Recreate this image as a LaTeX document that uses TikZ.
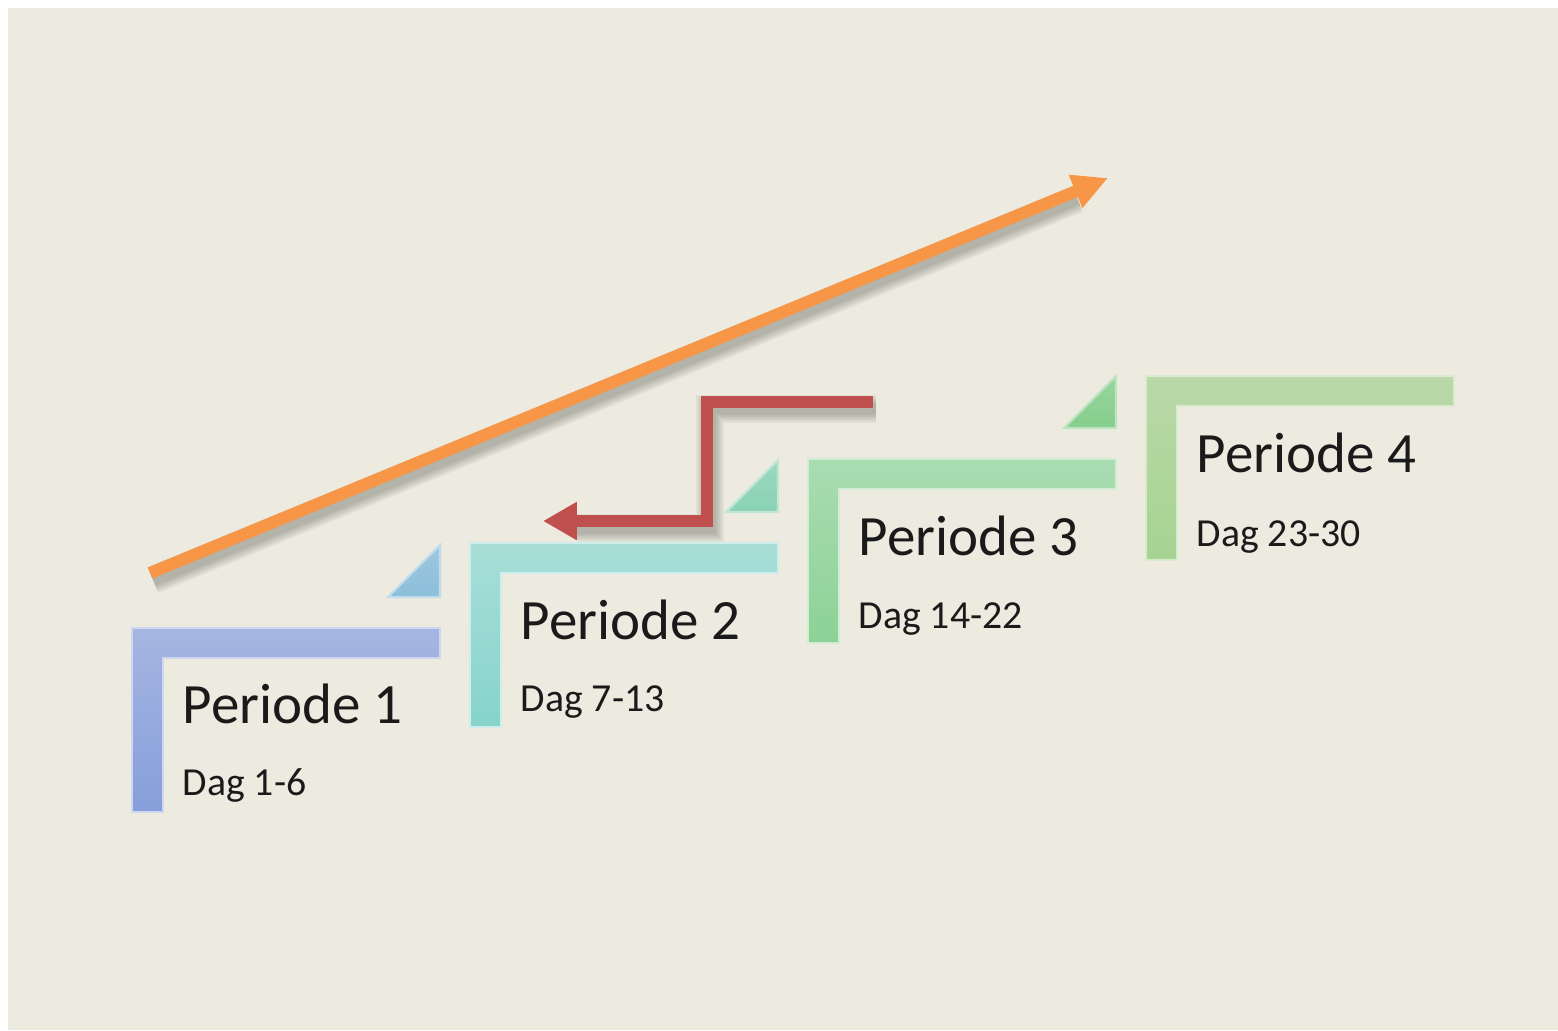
\documentclass[tikz,border=0pt]{standalone}
\usepackage{fontspec}
\setmainfont{Carlito}
\usetikzlibrary{arrows.meta,calc}
\definecolor{paper}{RGB}{237,235,224}
\definecolor{ink}{RGB}{26,26,26}
\definecolor{oneTop}{RGB}{166,182,226}
\definecolor{oneBot}{RGB}{134,158,218}
\definecolor{oneTri}{RGB}{140,190,218}
\definecolor{twoTop}{RGB}{168,222,216}
\definecolor{twoBot}{RGB}{134,212,204}
\definecolor{twoTri}{RGB}{138,210,180}
\definecolor{threeTop}{RGB}{170,220,178}
\definecolor{threeBot}{RGB}{140,210,150}
\definecolor{threeTri}{RGB}{134,206,140}
\definecolor{fourTop}{RGB}{186,216,168}
\definecolor{fourBot}{RGB}{166,212,146}
\definecolor{arrowOrange}{RGB}{247,150,70}
\definecolor{arrowRed}{RGB}{192,80,77}
% L-shaped step frame: #1,#2 = top-left corner, #3/#4 = shading colours
\newcommand\stepframe[4]{%
  \draw[framerim=#3, top color=#3, bottom color=#4]
    (#1,#2) -- ++(308,0) -- ++(0,30) -- ++(-277,0) -- ++(0,154) -- ++(-31,0) -- cycle;}
% small corner triangle above the right end of a frame
\newcommand\steptri[3]{%
  \draw[framerim=#3, top color=#3!85!white, bottom color=#3]
    (#1+256,#2-31) -- (#1+308,#2-31) -- (#1+308,#2-83) -- cycle;}
\begin{document}
\begin{tikzpicture}[x=0.01cm,y=-0.01cm,
  framerim/.style={draw=#1!55!white, line width=0.6pt},
  title/.style={anchor=base west, inner sep=0pt, text=ink, font=\fontsize{16.2pt}{20pt}\selectfont},
  days/.style={anchor=base west, inner sep=0pt, text=ink, font=\fontsize{11.3pt}{14pt}\selectfont},
  shadowline/.style={draw=black, line width=#1, opacity=0.05, line join=miter},
  orangearrow/.style={draw=arrowOrange, line width=0.12cm,
    -{Triangle[length=10pt,width=9.5pt]}},
  redarrow/.style={draw=arrowRed, line width=0.115cm, line join=miter,
    -{Triangle[length=9.6pt,width=10.2pt]}}]

\useasboundingbox (0,0) rectangle (1558,1030);
\fill[white] (0,0) rectangle (1558,1030);
\fill[paper] (8,8) rectangle (1558,1030);

% step frames
\stepframe{132}{628}{oneTop}{oneBot}
\steptri{132}{628}{oneTri}
\stepframe{470}{543}{twoTop}{twoBot}
\steptri{470}{543}{twoTri}
\stepframe{808}{459}{threeTop}{threeBot}
\steptri{808}{459}{threeTri}
\stepframe{1146}{376}{fourTop}{fourBot}

% labels
\node[title] (p1) at (182,723) {Periode 1};
\node[days]  (d1) at (182,795) {Dag 1-6};
\node[title] (p2) at (520,639) {Periode 2};
\node[days]  (d2) at (520,711) {Dag 7-13};
\node[title] (p3) at (858,555) {Periode 3};
\node[days]  (d3) at (858,628) {Dag 14-22};
\node[title] (p4) at (1196,472) {Periode 4};
\node[days]  (d4) at (1196,546) {Dag 23-30};

% arrow end points
\coordinate (oStart) at (150,573);
\coordinate (oEnd)   at (1108,178);
\coordinate (rStart) at (873,402);
\coordinate (rBend1) at (707,402);
\coordinate (rBend2) at (707,521);
\coordinate (rEnd)   at (543,521);

% soft drop shadows
\foreach \w in {0.28cm,0.24cm,0.2cm,0.16cm,0.12cm}{
  \draw[shadowline=\w] ($(oStart)+(3,7)$) -- ($(oStart)!0.965!(oEnd)+(3,7)$);
  \draw[shadowline=\w] ($(rStart)+(3,7)$) -- ($(rBend1)+(3,7)$)
       -- ($(rBend2)+(3,7)$) -- ($(rEnd)+(34,7)$);
}

% arrows
\draw[orangearrow] (oStart) -- (oEnd);
\draw[redarrow] (rStart) -- (rBend1) -- (rBend2) -- (rEnd);

\end{tikzpicture}
\end{document}
